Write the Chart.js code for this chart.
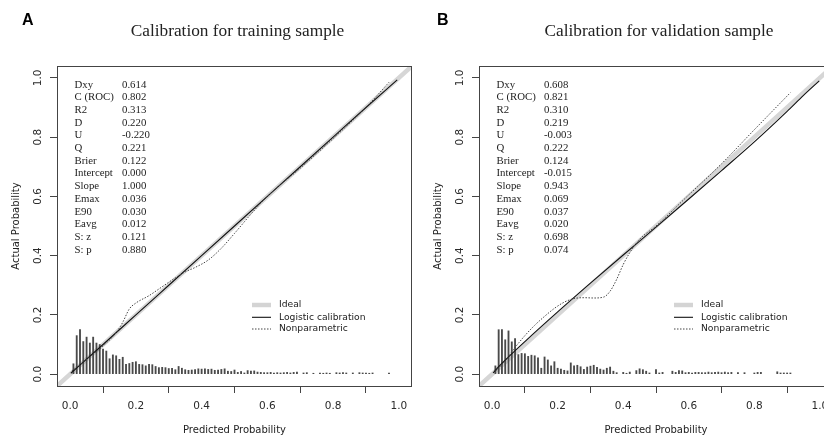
<!DOCTYPE html>
<html>
<head>
<meta charset="utf-8">
<script src="https://cdn.jsdelivr.net/npm/chart.js@4.4.0/dist/chart.umd.min.js"></script>
<style>
  html, body { margin: 0; padding: 0; background: #fff; overflow: hidden; }
  #wrap { position: relative; width: 824px; height: 439px; overflow: hidden; }
  #cA { position: absolute; left: 0; top: 0; }
  #cB { position: absolute; left: 422px; top: 0; }
</style>
</head>
<body>
<div id="wrap">
  <canvas id="cA" width="420" height="439"></canvas>
  <canvas id="cB" width="420" height="439"></canvas>
</div>
<script>
const tickValues = [0, 0.2, 0.4, 0.6, 0.8, 1.0];
const legendLabels = ["Ideal", "Logistic calibration", "Nonparametric"];
const statNames = ["Dxy", "C (ROC)", "R2", "D", "U", "Q", "Brier", "Intercept", "Slope", "Emax", "E90", "Eavg", "S: z", "S: p"];
const statsTrain = ["0.614", "0.802", "0.313", "0.220", "-0.220", "0.221", "0.122", "0.000", "1.000", "0.036", "0.030", "0.012", "0.121", "0.880"];
const statsValid = ["0.608", "0.821", "0.310", "0.219", "-0.003", "0.222", "0.124", "-0.015", "0.943", "0.069", "0.037", "0.020", "0.698", "0.074"];

// ideal line spans the whole plot region
const idealX = [-0.04, 1.04];
const idealY = [-0.04, 1.04];

// training sample
const logTrainX = [0.002, 0.1, 0.2, 0.3, 0.4, 0.5, 0.6, 0.7, 0.8, 0.9, 0.995];
const logTrainY = [0.003, 0.1, 0.2, 0.3, 0.4, 0.5, 0.6, 0.7, 0.8, 0.9, 0.993];
const npTrainX = [0.005, 0.05, 0.1, 0.14, 0.16, 0.18, 0.2, 0.24, 0.28, 0.32, 0.35, 0.38, 0.42, 0.46, 0.5, 0.55, 0.6, 0.7, 0.8, 0.9, 0.97];
const npTrainY = [0.01, 0.05, 0.095, 0.14, 0.175, 0.22, 0.24, 0.265, 0.295, 0.325, 0.345, 0.36, 0.385, 0.425, 0.475, 0.54, 0.6, 0.695, 0.795, 0.9, 0.985];
const spikeTrainX = [0.01, 0.02, 0.03, 0.04, 0.05, 0.06, 0.07, 0.08, 0.09, 0.10, 0.11, 0.12, 0.13, 0.14, 0.15, 0.16, 0.17, 0.18, 0.19, 0.20,
  0.21, 0.22, 0.23, 0.24, 0.25, 0.26, 0.27, 0.28, 0.29, 0.30, 0.31, 0.32, 0.33, 0.34, 0.35, 0.36, 0.37, 0.38, 0.39, 0.40,
  0.41, 0.42, 0.43, 0.44, 0.45, 0.46, 0.47, 0.48, 0.49, 0.50, 0.51, 0.52, 0.53, 0.54, 0.55, 0.56, 0.57, 0.58, 0.59, 0.60,
  0.61, 0.62, 0.63, 0.64, 0.65, 0.66, 0.67, 0.68, 0.69, 0.71, 0.72, 0.74, 0.76, 0.77, 0.78, 0.79, 0.81, 0.82, 0.83, 0.84,
  0.86, 0.88, 0.89, 0.90, 0.91, 0.92, 0.97];
const spikeTrainH = [0.035, 0.13, 0.15, 0.11, 0.125, 0.105, 0.125, 0.105, 0.10, 0.085, 0.078, 0.052, 0.065, 0.062, 0.05, 0.057, 0.033, 0.036, 0.04, 0.042,
  0.033, 0.032, 0.028, 0.033, 0.032, 0.026, 0.022, 0.023, 0.022, 0.019, 0.02, 0.015, 0.026, 0.02, 0.015, 0.013, 0.014, 0.015, 0.018, 0.017,
  0.018, 0.016, 0.017, 0.013, 0.014, 0.016, 0.018, 0.01, 0.009, 0.014, 0.006, 0.009, 0.004, 0.012, 0.01, 0.011, 0.007, 0.006, 0.005, 0.005,
  0.006, 0.004, 0.005, 0.004, 0.005, 0.006, 0.004, 0.006, 0.007, 0.004, 0.005, 0.003, 0.004, 0.003, 0.004, 0.003, 0.005, 0.004, 0.005, 0.004,
  0.004, 0.005, 0.004, 0.004, 0.003, 0.004, 0.004];

// validation sample
const logValidX = [0.003, 0.01, 0.05, 0.1, 0.2, 0.3, 0.4, 0.5, 0.6, 0.7, 0.8, 0.9, 0.95, 0.998];
const logValidY = [0.004, 0.013, 0.058, 0.11, 0.21, 0.307, 0.402, 0.496, 0.591, 0.687, 0.784, 0.887, 0.941, 0.99];
const npValidX = [0.01, 0.04, 0.07, 0.1, 0.13, 0.16, 0.19, 0.22, 0.25, 0.28, 0.31, 0.34, 0.36, 0.38, 0.40, 0.42, 0.45, 0.5, 0.6, 0.7, 0.8, 0.91];
const npValidY = [0.01, 0.045, 0.09, 0.13, 0.165, 0.195, 0.222, 0.243, 0.255, 0.258, 0.257, 0.26, 0.28, 0.32, 0.37, 0.41, 0.455, 0.5, 0.605, 0.71, 0.825, 0.95];
const spikeValidX = [0.01, 0.02, 0.03, 0.04, 0.05, 0.06, 0.07, 0.08, 0.09, 0.10, 0.11, 0.12, 0.13, 0.14, 0.15, 0.16, 0.17, 0.18, 0.19, 0.20,
  0.21, 0.22, 0.23, 0.24, 0.25, 0.26, 0.27, 0.28, 0.29, 0.30, 0.31, 0.32, 0.33, 0.34, 0.35, 0.36, 0.37, 0.38, 0.40,
  0.41, 0.42, 0.44, 0.45, 0.46, 0.47, 0.48, 0.50, 0.51, 0.52, 0.55, 0.56, 0.57, 0.58, 0.59, 0.60,
  0.61, 0.62, 0.63, 0.64, 0.65, 0.66, 0.67, 0.68, 0.69, 0.70, 0.71, 0.72, 0.73, 0.75, 0.77, 0.80, 0.81, 0.82,
  0.87, 0.88, 0.89, 0.90, 0.91];
const spikeValidH = [0.028, 0.15, 0.15, 0.116, 0.146, 0.109, 0.12, 0.066, 0.07, 0.069, 0.06, 0.064, 0.062, 0.055, 0.02, 0.058, 0.048, 0.028, 0.042, 0.02,
  0.017, 0.013, 0.011, 0.038, 0.028, 0.03, 0.025, 0.016, 0.024, 0.027, 0.03, 0.023, 0.017, 0.014, 0.02, 0.024, 0.01, 0.005, 0.006,
  0.003, 0.007, 0.012, 0.018, 0.015, 0.01, 0.004, 0.015, 0.004, 0.006, 0.01, 0.006, 0.012, 0.011, 0.005, 0.006,
  0.004, 0.006, 0.006, 0.005, 0.005, 0.007, 0.005, 0.006, 0.007, 0.005, 0.007, 0.005, 0.006, 0.005, 0.005, 0.004, 0.006, 0.006,
  0.008, 0.004, 0.004, 0.004, 0.004];

const toPoints = (xs, ys) => xs.map((x, i) => ({ x: x, y: ys[i] }));

function makeDecor(p) {
  return {
    id: 'decor',
    afterDraw(chart) {
      const ctx = chart.ctx, a = chart.chartArea;
      const cx = (a.left + a.right) / 2;
      ctx.save();
      // box round the plot region
      ctx.strokeStyle = '#444';
      ctx.lineWidth = 1;
      ctx.strokeRect(Math.round(a.left) + 0.5, Math.round(a.top) + 0.5,
        Math.round(a.right - a.left) - 1, Math.round(a.bottom - a.top));

      ctx.fillStyle = '#000';
      ctx.textAlign = 'left';
      ctx.textBaseline = 'alphabetic';
      ctx.font = 'bold 16px "Liberation Sans"';
      ctx.fillText(p.letter, p.letterX, 25);

      ctx.fillStyle = '#222';
      ctx.textAlign = 'center';
      ctx.font = '17.3px "Liberation Serif"';
      ctx.fillText(p.title, cx + 3, 36);

      ctx.textAlign = 'left';
      ctx.font = '10.8px "Liberation Serif"';
      statNames.forEach((n, i) => {
        const y = 87.5 + i * 12.7;
        ctx.fillText(n, a.left + 17.5, y);
        ctx.fillText(p.stats[i], a.left + 65, y);
      });

      // legend
      const lx0 = a.left + 195, lx1 = a.left + 214, tx = a.left + 222;
      const rows = [305, 317.3, 329];
      ctx.lineCap = 'butt';
      ctx.strokeStyle = '#d4d4d4'; ctx.lineWidth = 4.5;
      ctx.beginPath(); ctx.moveTo(lx0, rows[0]); ctx.lineTo(lx1, rows[0]); ctx.stroke();
      ctx.strokeStyle = '#111'; ctx.lineWidth = 1.1;
      ctx.beginPath(); ctx.moveTo(lx0, rows[1]); ctx.lineTo(lx1, rows[1]); ctx.stroke();
      ctx.strokeStyle = '#444'; ctx.lineWidth = 1; ctx.setLineDash([1.5, 1.5]);
      ctx.beginPath(); ctx.moveTo(lx0, rows[2]); ctx.lineTo(lx1, rows[2]); ctx.stroke();
      ctx.setLineDash([]);
      ctx.font = '9.2px "DejaVu Sans"';
      ctx.textBaseline = 'middle';
      legendLabels.forEach((t, i) => ctx.fillText(t, tx, rows[i]));

      // axis titles
      ctx.font = '10px "DejaVu Sans"';
      ctx.textAlign = 'center';
      ctx.fillText('Predicted Probability', cx, 430);
      ctx.translate(16, (a.top + a.bottom) / 2);
      ctx.rotate(-Math.PI / 2);
      ctx.fillText('Actual Probability', 0, 0);
      ctx.restore();
    }
  };
}

function axis(extra) {
  return Object.assign({
    type: 'linear',
    min: -0.04,
    max: 1.04,
    offset: false,
    afterBuildTicks: s => { s.ticks = tickValues.map(v => ({ value: v })); },
    grid: { drawOnChartArea: false, drawTicks: true, tickLength: 7, tickColor: '#444', tickWidth: 1 },
    border: { display: false }
  }, extra);
}

function makePanel(id, p) {
  return new Chart(document.getElementById(id), {
    type: 'line',
    data: {
      datasets: [
        { label: legendLabels[0], data: toPoints(idealX, idealY), borderColor: '#d6d6d6', borderWidth: 4.5, pointRadius: 0, order: 4 },
        { type: 'bar', label: 'spikes', data: toPoints(p.spikeX, p.spikeH), backgroundColor: '#4a4a4a', barThickness: 1.2, order: 3 },
        { label: legendLabels[1], data: toPoints(p.logX, p.logY), borderColor: '#111', borderWidth: 1.1, pointRadius: 0,
          cubicInterpolationMode: 'monotone', order: 2 },
        { label: legendLabels[2], data: toPoints(p.npX, p.npY), borderColor: '#444', borderWidth: 1, borderDash: [1.5, 1.5],
          pointRadius: 0, cubicInterpolationMode: 'monotone', order: 1 }
      ]
    },
    options: {
      responsive: false,
      animation: false,
      events: [],
      layout: { padding: { left: 0, top: 66, right: p.padRight, bottom: 0 } },
      plugins: { legend: { display: false }, tooltip: { enabled: false } },
      scales: {
        x: axis({
          afterFit: s => { s.height = 53; },
          ticks: { font: { family: 'DejaVu Sans', size: 10.5 }, color: '#2a2a2a', padding: 7, maxRotation: 0, autoSkip: false,
            callback: v => v.toFixed(1) }
        }),
        y: axis({
          afterFit: s => { s.width = 57; },
          ticks: { font: { family: 'DejaVu Sans', size: 10.5 }, color: '#2a2a2a', padding: 3, minRotation: 90, maxRotation: 90,
            crossAlign: 'center', autoSkip: false, callback: v => v.toFixed(1) }
        })
      }
    },
    plugins: [makeDecor(p)]
  });
}

makePanel('cA', {
  letter: 'A', letterX: 22, title: 'Calibration for training sample', stats: statsTrain, padRight: 8,
  logX: logTrainX, logY: logTrainY, npX: npTrainX, npY: npTrainY, spikeX: spikeTrainX, spikeH: spikeTrainH
});
makePanel('cB', {
  letter: 'B', letterX: 15, title: 'Calibration for validation sample', stats: statsValid, padRight: 9,
  logX: logValidX, logY: logValidY, npX: npValidX, npY: npValidY, spikeX: spikeValidX, spikeH: spikeValidH
});
</script>
</body>
</html>
